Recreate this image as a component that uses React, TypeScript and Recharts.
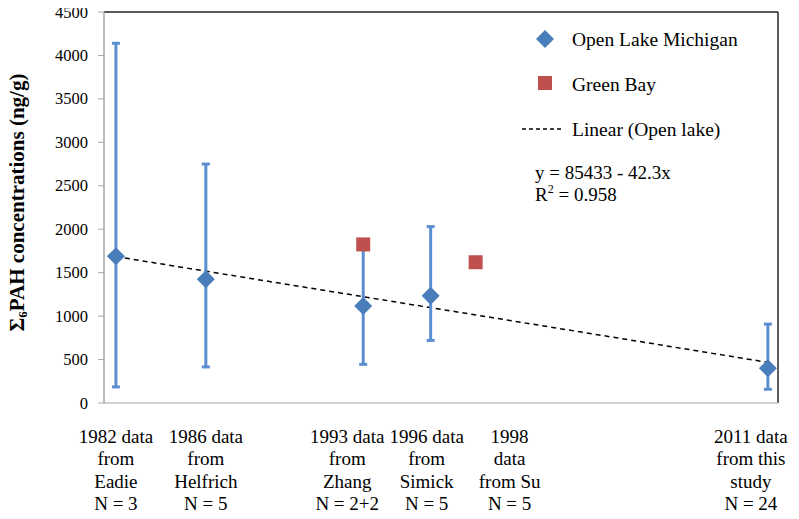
import React from 'react';
import {
  ComposedChart,
  Scatter,
  Line,
  XAxis,
  YAxis,
  ErrorBar,
  ReferenceLine,
  Legend,
} from 'recharts';

// ---- data ----
const openYears = [1982, 1986, 1993, 1996, 2011];
const openValues = [1690, 1425, 1115, 1235, 400];
const openLow = [185, 415, 445, 720, 158];
const openHigh = [4140, 2750, 1800, 2030, 908];

const bayYears = [1993, 1998];
const bayValues = [1825, 1620];

const trendYears = [1982, 2011];
const trendValues = [1685, 468];

const labelYears = [1982, 1986, 1993, 1996, 1998, 2011];
const labelLines = [
  ['1982 data', 'from', 'Eadie', 'N = 3'],
  ['1986 data', 'from', 'Helfrich', 'N = 5'],
  ['1993 data', 'from', 'Zhang', 'N = 2+2'],
  ['1996 data', 'from', 'Simick', 'N = 5'],
  ['1998', 'data', 'from Su', 'N = 5'],
  ['2011 data', 'from this', 'study', 'N = 24'],
];
const yTicks = [0, 500, 1000, 1500, 2000, 2500, 3000, 3500, 4000, 4500];

const seriesNames = ['Open Lake Michigan', 'Green Bay', 'Linear (Open lake)'];
const equationText = 'y = 85433 - 42.3x';
const r2Text = '0.958';

const xDomain = [1981.47, 2011.45];
const yDomain = [0, 4500];

// ---- style ----
const SERIF = 'Liberation Serif, Times New Roman, serif';
const BLUE = '#4A7EBB';
const ERR_BLUE = '#5B8FD2';
const RED = '#C0504D';
const labelShift = [0, 0, -16, -4, 34, -17];

const openData = openYears.map((x, i) => ({
  x,
  y: openValues[i],
  err: [openValues[i] - openLow[i], openHigh[i] - openValues[i]],
}));
const bayData = bayYears.map((x, i) => ({ x, y: bayValues[i] }));
const trendData = trendYears.map((x, i) => ({ x, y: trendValues[i] }));

const Diamond = (props: any) => {
  const { cx, cy } = props;
  const r = 9;
  return (
    <polygon
      points={`${cx},${cy - r} ${cx + r},${cy} ${cx},${cy + r} ${cx - r},${cy}`}
      fill={BLUE}
    />
  );
};

const Square = (props: any) => {
  const { cx, cy } = props;
  const s = 14;
  return <rect x={cx - s / 2} y={cy - s / 2} width={s} height={s} fill={RED} />;
};

const XTick = (props: any) => {
  const { x, y, payload } = props;
  const idx = labelYears.indexOf(payload.value);
  if (idx < 0) return null;
  const lines = labelLines[idx];
  const cx = x + labelShift[idx];
  return (
    <text x={cx} y={y + 40} textAnchor="middle" fontFamily={SERIF} fontSize={19} fill="#000">
      {lines.map((l, i) => (
        <tspan key={i} x={cx} dy={i === 0 ? 0 : 22.4}>
          {l}
        </tspan>
      ))}
    </text>
  );
};

const YTick = (props: any) => {
  const { x, y, payload } = props;
  return (
    <text x={x} y={y} dy={5.5} textAnchor="end" fontFamily={SERIF} fontSize={16.5} fill="#000">
      {payload.value}
    </text>
  );
};

const YTitle = (props: any) => {
  const vb = props.viewBox || { x: 0, y: 12, width: 104, height: 391 };
  const cx = 17;
  const cy = vb.y + vb.height / 2 - 5;
  return (
    <text
      x={cx}
      y={cy}
      transform={`rotate(-90, ${cx}, ${cy})`}
      textAnchor="middle"
      dominantBaseline="central"
      fontFamily={SERIF}
      fontWeight="bold"
      fontSize={21}
      fill="#000"
    >
      <tspan>Σ</tspan>
      <tspan fontSize={13} dy={5}>6</tspan>
      <tspan dy={-5}>PAH concentrations (ng/g)</tspan>
    </text>
  );
};

const LegendBox = () => {
  const t = { fontFamily: SERIF, fontSize: 19.5, fill: '#000' };
  return (
    <svg width={270} height={195} style={{ display: 'block' }}>
      <polygon points="30,10 39,19 30,28 21,19" fill={BLUE} />
      <rect x={23} y={56} width={14} height={14} fill={RED} />
      <line x1={7} y1={109} x2={47} y2={109} stroke="#000" strokeWidth={1.3} strokeDasharray="4 3" />
      <text x={57} y={26} {...t}>{seriesNames[0]}</text>
      <text x={57} y={70.5} {...t}>{seriesNames[1]}</text>
      <text x={57} y={115.5} {...t}>{seriesNames[2]}</text>
      <text x={20} y={158.5} {...t} fontSize={19}>{equationText}</text>
      <text x={20} y={180.5} {...t} fontSize={19}>
        R<tspan fontSize={12} dy={-8}>2</tspan>
        <tspan dy={8}>{' = ' + r2Text}</tspan>
      </text>
    </svg>
  );
};

export default function App() {
  return (
    <div style={{ marginLeft: -8, marginTop: -8, width: 799, height: 519, background: '#fff' }}>
      <ComposedChart width={799} height={519} margin={{ top: 12, right: 21, bottom: 0, left: 0 }}>
        <XAxis
          type="number"
          dataKey="x"
          domain={xDomain}
          ticks={labelYears}
          interval={0}
          tick={<XTick />}
          tickLine={false}
          tickSize={0}
          tickMargin={0}
          axisLine={{ stroke: '#BFBFBF', strokeWidth: 1.5 }}
          height={116}
          allowDataOverflow
        />
        <YAxis
          type="number"
          dataKey="y"
          domain={yDomain}
          ticks={yTicks}
          interval={0}
          width={104}
          tickSize={6}
          tickMargin={10}
          tickLine={{ stroke: '#A6A6A6' }}
          axisLine={{ stroke: '#A6A6A6', strokeWidth: 1.5 }}
          tick={<YTick />}
          label={<YTitle />}
          allowDataOverflow
        />
        <ReferenceLine y={4500} stroke="#595959" strokeWidth={2} />
        <ReferenceLine x={xDomain[1]} stroke="#262626" strokeWidth={1.5} />
        <Line
          data={trendData}
          dataKey="y"
          type="linear"
          stroke="#000"
          strokeWidth={1.5}
          strokeDasharray="5 4"
          dot={false}
          activeDot={false}
          isAnimationActive={false}
          legendType="none"
        />
        <Scatter data={openData} dataKey="y" shape={<Diamond />} isAnimationActive={false} name={seriesNames[0]}>
          <ErrorBar dataKey="err" direction="y" width={4} strokeWidth={3} stroke={ERR_BLUE} />
        </Scatter>
        <Scatter data={bayData} dataKey="y" shape={<Square />} isAnimationActive={false} name={seriesNames[1]} />
        <Legend
          layout="vertical"
          align="center"
          verticalAlign="middle"
          wrapperStyle={{ left: 515, top: 20, width: 270, height: 195 }}
          content={() => <LegendBox />}
        />
      </ComposedChart>
    </div>
  );
}
